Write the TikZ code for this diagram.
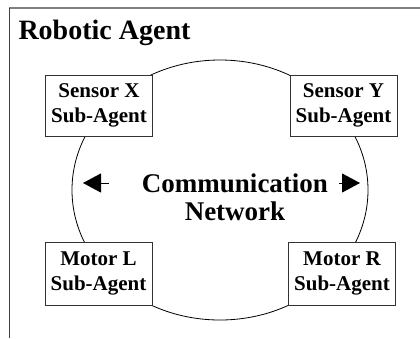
\documentclass[tikz,border=0pt]{standalone}
\usepackage{fontspec}
\setmainfont{Liberation Serif}
\usetikzlibrary{arrows.meta,shapes.geometric}
\begin{document}
\begin{tikzpicture}[x=1pt,y=-1pt,
  agent/.style={draw=black!80, line width=0.9pt, fill=white, align=center,
    font=\fontsize{21}{25}\selectfont\bfseries, inner sep=0pt,
    minimum width=107pt, minimum height=61pt,
    execute at begin node={\rule{0pt}{23pt}}},
  net/.style={draw=black, line width=0.8pt, ellipse, inner sep=0pt,
    minimum width=296pt, minimum height=260pt},
  flow/.style={line width=1pt, -{Triangle[length=18pt,width=19pt]}}]
\useasboundingbox (0,0) rectangle (420,338);

% enclosing frame: top and left edges only
\draw[black!50, line width=1.5pt] (9,8) -- (420,8);
\draw[black!75, line width=0.9pt] (9,8) -- (9,338);

\node[anchor=base west, font=\fontsize{28}{32}\selectfont\bfseries] (title) at (15,39) {Robotic Agent};

% communication ring
\node[net] (ring) at (220,190) {};
\node[font=\fontsize{27}{28}\selectfont\bfseries, align=center] (comm) at (235,197) {Communication\\Network};

\coordinate (lfrom) at (109,183);
\coordinate (lto) at (83,183);
\coordinate (rfrom) at (339,183);
\coordinate (rto) at (360,183);
\draw[flow] (lfrom) -- (lto);
\draw[flow] (rfrom) -- (rto);

% sub-agents
\node[agent] (sx) at (99,105.5) {Sensor X\\Sub-Agent};
\node[agent] (sy) at (343.5,105.5) {Sensor Y\\Sub-Agent};
\node[agent, minimum height=63pt] (ml) at (98.5,273.5) {Motor L\\Sub-Agent};
\node[agent, minimum height=63pt] (mr) at (342,273.5) {Motor R\\Sub-Agent};
\end{tikzpicture}
\end{document}
